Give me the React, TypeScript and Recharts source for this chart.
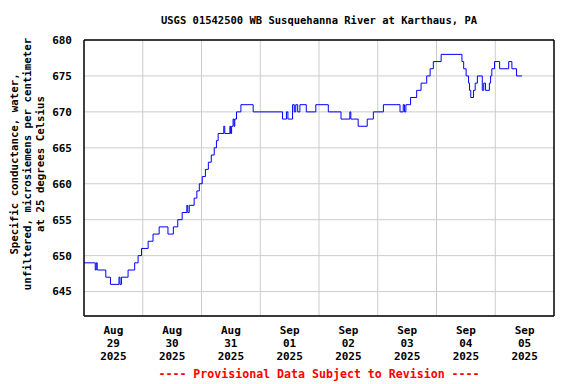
import React from "react";
import { CartesianGrid, Line, LineChart, ReferenceLine, XAxis, YAxis } from "recharts";

// hours since Aug 29 2025 00:00 and specific conductance readings
const hours = [
  0, 4.6, 5.0, 5.4, 8.9, 10.8, 14.3, 14.7, 15.3, 18.0, 20.7, 22.1, 23.5, 26.2, 28.2, 30.7, 34.3, 36.5, 38.3,
  40.1, 42.0, 42.4, 43.0, 45.0, 46.1, 47.1, 48.3, 49.6, 50.8, 52.0, 53.2, 54.1, 54.8, 57.1, 57.5, 59.6, 59.9,
  60.3, 60.9, 61.3, 61.6, 62.3, 64.1, 69.1, 81.1, 82.7, 83.3, 85.2, 85.9, 86.5, 87.3, 88.2, 90.8, 94.7, 99.8,
  105.0, 108.6, 109.0, 112.0, 115.7, 118.2, 122.3, 129.1, 130.4, 130.9, 131.5, 133.4, 135.9, 137.7, 140.0,
  141.4, 142.7, 145.9, 154.4, 155.1, 156.1, 157.1, 157.5, 158.0, 159.1, 159.8, 160.7, 162.7, 163.3, 164.0,
  165.6, 166.1, 166.6, 167.7, 169.8, 173.5, 174.8, 176.7, 178.9
];
const values = [
  649, 648, 649, 648, 647, 646, 647, 646, 647, 648, 649, 650, 651, 652, 653, 654, 653, 654, 655,
  656, 657, 656, 657, 658, 659, 660, 661, 662, 663, 664, 665, 666, 667, 668, 667, 668, 667,
  668, 669, 668, 669, 670, 671, 670, 669, 670, 669, 671, 670, 671, 670, 671, 670, 671, 670,
  669, 670, 669, 668, 669, 670, 671, 670, 671, 670, 671, 672, 673, 674, 675,
  676, 677, 678, 677, 676, 675, 674, 673, 672, 673, 674, 675, 673, 674, 673,
  674, 675, 676, 677, 676, 677, 676, 675, 675
];

const yTicks = [645, 650, 655, 660, 665, 670, 675, 680];
const labelHours = [12, 36, 60, 84, 108, 132, 156, 180];
const midnightHours = [24, 48, 72, 96, 120, 144, 168];
const months = ["Aug", "Aug", "Aug", "Sep", "Sep", "Sep", "Sep", "Sep"];
const days = ["29", "30", "31", "01", "02", "03", "04", "05"];
const year = "2025";

const data = hours.map((h, i) => ({ h, v: values[i] }));

const font = "'DejaVu Sans Mono', monospace";

function DateTick(props: any) {
  const { x, y, payload } = props;
  const i = labelHours.indexOf(payload.value);
  return (
    <text x={x} y={y} textAnchor="middle" fontFamily={font} fontWeight="bold" fontSize={11} fill="#000">
      <tspan x={x} dy={10}>{months[i]}</tspan>
      <tspan x={x} dy={13}>{days[i]}</tspan>
      <tspan x={x} dy={13}>{year}</tspan>
    </text>
  );
}

function YLabel() {
  const lines = ["Specific conductance, water,", "unfiltered, microsiemens per centimeter", "at 25 degrees Celsius"];
  const cy = 164;
  return (
    <g>
      {lines.map((t, i) => {
        const cx = 14 + i * 13;
        return (
          <text key={i} x={cx} y={cy} transform={`rotate(-90 ${cx} ${cy})`} textAnchor="middle"
            dominantBaseline="central" fontFamily={font} fontWeight="bold" fontSize={10.75} fill="#000">
            {t}
          </text>
        );
      })}
    </g>
  );
}

export default function App() {
  return (
    <div style={{ position: "relative", width: 576, height: 384, background: "#fff" }}>
      <style>{"body{margin:0}"}</style>
      <div style={{ position: "absolute", top: 14, left: 0, width: 638, textAlign: "center", fontFamily: font,
        fontWeight: "bold", fontSize: 10.5, color: "#000" }}>
        USGS 01542500 WB Susquehanna River at Karthaus, PA
      </div>
      <LineChart width={576} height={384} data={data} margin={{ top: 40, right: 22, bottom: 0, left: 0 }}>
        <CartesianGrid vertical={false} stroke="#cccccc" strokeWidth={1} />
        {midnightHours.map((m) => (
          <ReferenceLine key={m} x={m} stroke="#cccccc" strokeWidth={1} />
        ))}
        <ReferenceLine y={680} stroke="#000" strokeWidth={1.5} />
        <ReferenceLine x={192} stroke="#000" strokeWidth={1.5} />
        <XAxis dataKey="h" type="number" domain={[0, 192]} ticks={labelHours} tick={<DateTick />}
          tickLine={false} height={68} stroke="#000" strokeWidth={1.5} interval={0} />
        <YAxis type="number" domain={[641.6, 680]} ticks={yTicks} width={84} tickLine={false} stroke="#000"
          strokeWidth={1.5} tickMargin={6} interval={0} allowDataOverflow
          tick={{ fontFamily: font, fontWeight: "bold", fontSize: 11, fill: "#000" }}
          label={{ content: () => <YLabel /> }} />
        <Line type="stepAfter" dataKey="v" stroke="#0000ff" strokeWidth={1} dot={false} isAnimationActive={false} />
      </LineChart>
      <div style={{ position: "absolute", top: 367, left: 0, width: 638, textAlign: "center", fontFamily: font,
        fontWeight: "bold", fontSize: 11.6, color: "#ff0000" }}>
        ---- Provisional Data Subject to Revision ----
      </div>
    </div>
  );
}
